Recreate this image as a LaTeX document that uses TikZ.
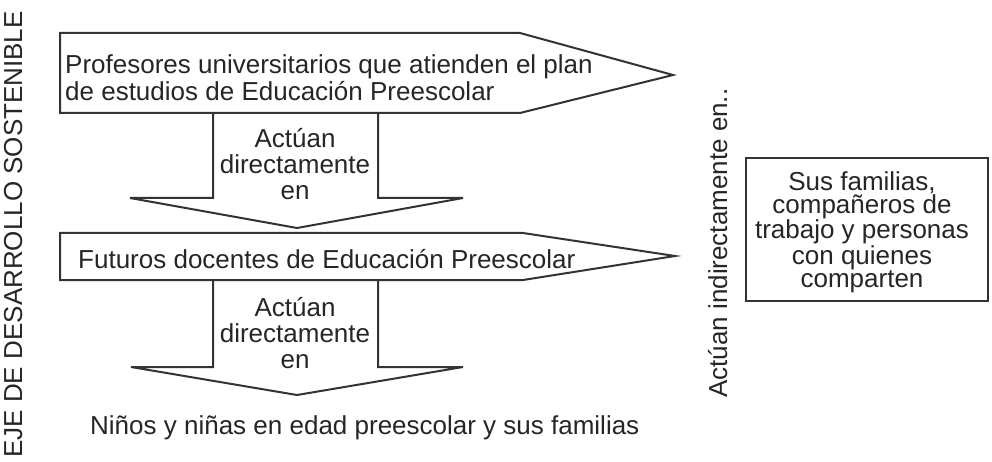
\documentclass[tikz,border=0pt]{standalone}
\usepackage{fontspec}
\setmainfont{Liberation Sans}
\usepackage{tikz}
\usetikzlibrary{calc}
\tikzset{
  bloque/.style={draw=black!80, line width=2pt, line join=miter},
  texto/.style={font=\fontsize{26}{27}\selectfont, text=black!85, inner sep=0pt},
  baja/.style={texto, align=center, font=\fontsize{26}{26}\selectfont},
}

\begin{document}
\begin{tikzpicture}[x=1pt,y=-1pt]
  \useasboundingbox[fill=white] (0,0) rectangle (992,462);
  % flechas horizontales
  \draw[bloque] (60,33) -- (520,33) -- (673,75) -- (520,113) -- (60,113) -- cycle;
  \draw[bloque] (60,233) -- (523,233) -- (675,256) -- (523,280) -- (60,280) -- cycle;
  % flechas hacia abajo
  \draw[bloque] (213,113) -- (213,198) -- (130,198) -- (297,228) -- (463,198) -- (378,198) -- (378,113);
  \draw[bloque] (213,280) -- (213,367) -- (131,367) -- (297,395) -- (463,367) -- (378,367) -- (378,280);
  % recuadro
  \draw[bloque] (746,158) rectangle (988,301);

  \node[texto, anchor=base west, align=left] (profes) at (65,101)
    {Profesores universitarios que atienden el plan\\de estudios de Educación Preescolar};
  \node[baja, anchor=base] (actua1) at (295,200) {Actúan\\directamente\\en};
  \node[texto, anchor=base west] (futuros) at (78,268) {Futuros docentes de Educación Preescolar};
  \node[baja, anchor=base] (actua2) at (295,368) {Actúan\\directamente\\en};
  \node[texto, anchor=base west] (ninos) at (90,434) {Niños y niñas en edad preescolar y sus familias};
  \node[texto, align=center, font=\fontsize{26}{23}\selectfont, anchor=base] (familias) at (862,287)
    {Sus familias,\\compañeros de\\trabajo y personas\\con quienes\\comparten};
  \node[texto, rotate=90, anchor=base west] (indirecto) at (727,398) {Actúan indirectamente en..};
  \node[texto, rotate=90, anchor=base east] (eje) at (22,11) {EJE DE DESARROLLO SOSTENIBLE};
\end{tikzpicture}
\end{document}
